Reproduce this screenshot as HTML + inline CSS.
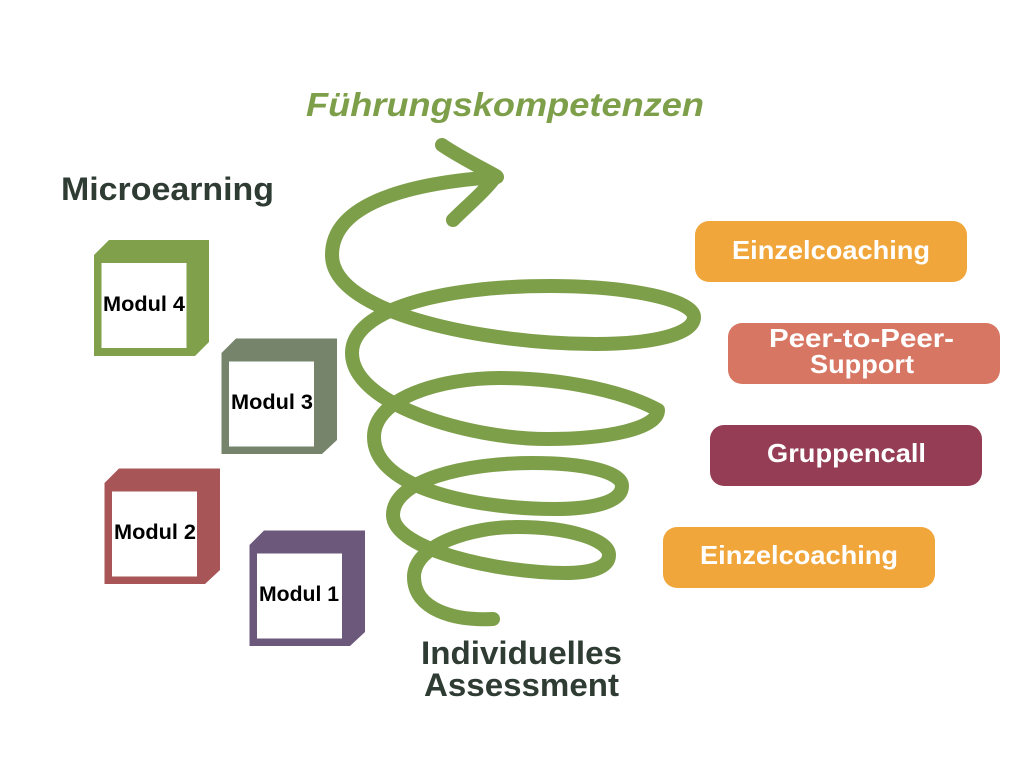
<!DOCTYPE html>
<html><head><meta charset="utf-8"><style>html,body{margin:0;padding:0;background:#fff}svg{display:block}text{font-family:"Liberation Sans",Arial,sans-serif;font-weight:700}</style></head>
<body>
<svg width="1024" height="768" viewBox="0 0 1024 768" xmlns="http://www.w3.org/2000/svg">
<rect width="1024" height="768" fill="#fff"/>
<path fill="none" stroke="#7E9F4A" stroke-width="14" stroke-linecap="round" stroke-linejoin="round" d="M493 619 C455 621 414 610 414 577 C414 545 470 527 517 527 C570 527 609 540 609 555 C609 568 590 573 565 573 C500 573 393 550 393 515 C393 480 465 463 533 463 C585 463 622 472 622 486 C622 503 590 509 555 509 C480 509 374 490 374 437 C374 398 440 378 500 378 C565 378 625 392 658 410 C658 428 610 439 547 439 C470 439 352 405 352 353 C352 310 440 286 550 286 C630 286 694 300 694 317 C694 335 650 344 595 344 C490 344 332 315 332 255 C332 200 420 182 497 177"/>
<path fill="none" stroke="#7E9F4A" stroke-width="14" stroke-linecap="round" stroke-linejoin="round" d="M442 145 C458 156 478 166 496 176 C484 192 468 205 453 220"/>
<text x="306" y="116" font-size="33" font-style="italic" fill="#7E9F4A" textLength="398" lengthAdjust="spacingAndGlyphs">Führungskompetenzen</text>
<text x="61" y="200" font-size="32" fill="#2F3C33" textLength="213" lengthAdjust="spacingAndGlyphs">Microearning</text>
<text x="421" y="664" font-size="32" fill="#2F3C33" textLength="201" lengthAdjust="spacingAndGlyphs">Individuelles</text>
<text x="424" y="696" font-size="32" fill="#2F3C33" textLength="195" lengthAdjust="spacingAndGlyphs">Assessment</text>
<g>
<polygon points="109,240 209,240 209,342 195,356 94,356 94,255" fill="#80A04B"/><rect x="101.5" y="263" width="85" height="85" fill="#fff"/>
<text x="103" y="311" font-size="21" fill="#000" textLength="82" lengthAdjust="spacingAndGlyphs">Modul 4</text>
<polygon points="236,338.5 337,338.5 337,440 322,454 221.5,454 221.5,353" fill="#76846C"/><rect x="229" y="361.5" width="85" height="85" fill="#fff"/>
<text x="231" y="409" font-size="21" fill="#000" textLength="82" lengthAdjust="spacingAndGlyphs">Modul 3</text>
<polygon points="119,468.5 220,468.5 220,570 205,584 104.5,584 104.5,483" fill="#A85557"/><rect x="112" y="491.5" width="85" height="85" fill="#fff"/>
<text x="114" y="539" font-size="21" fill="#000" textLength="82" lengthAdjust="spacingAndGlyphs">Modul 2</text>
<polygon points="264,530.5 365,530.5 365,632 350,646 249.5,646 249.5,545" fill="#6B587B"/><rect x="257" y="553.5" width="85" height="85" fill="#fff"/>
<text x="259" y="601" font-size="21" fill="#000" textLength="80" lengthAdjust="spacingAndGlyphs">Modul 1</text>
</g>
<rect x="695" y="221" width="272" height="61" rx="14" fill="#F0A63A"/>
<text x="732" y="259" font-size="26" fill="#fff" textLength="198" lengthAdjust="spacingAndGlyphs">Einzelcoaching</text>
<rect x="728" y="323" width="272" height="61" rx="14" fill="#D77763"/>
<text x="769" y="347" font-size="26" fill="#fff" textLength="185" lengthAdjust="spacingAndGlyphs">Peer-to-Peer-</text>
<text x="810" y="373" font-size="26" fill="#fff" textLength="104" lengthAdjust="spacingAndGlyphs">Support</text>
<rect x="710" y="425" width="272" height="61" rx="14" fill="#943D55"/>
<text x="767" y="462" font-size="26" fill="#fff" textLength="159" lengthAdjust="spacingAndGlyphs">Gruppencall</text>
<rect x="663" y="527" width="272" height="61" rx="14" fill="#F0A63A"/>
<text x="700" y="564" font-size="26" fill="#fff" textLength="198" lengthAdjust="spacingAndGlyphs">Einzelcoaching</text>
</svg>
</body></html>
